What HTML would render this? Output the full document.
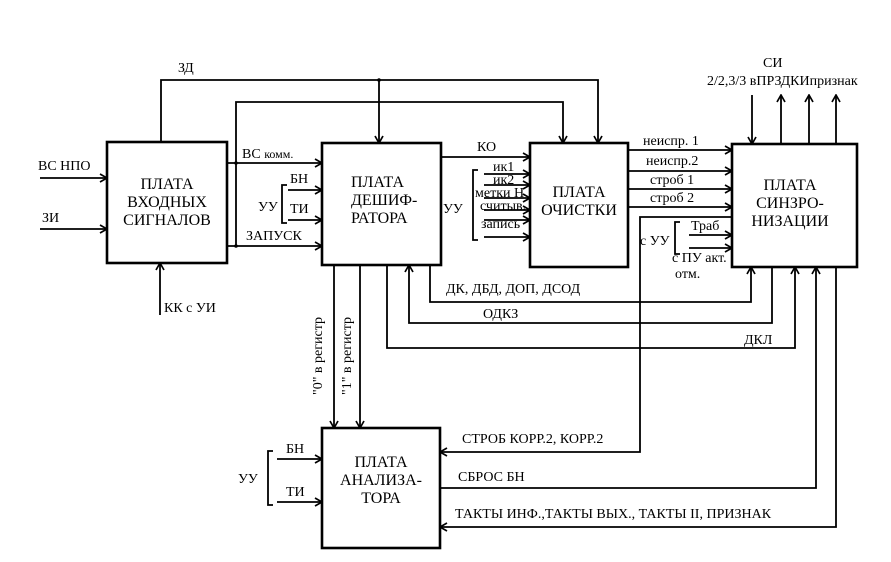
<!DOCTYPE html>
<html><head><meta charset="utf-8"><style>
html,body{margin:0;padding:0;background:#fff;}
svg{display:block;}
text{font-family:"Liberation Serif","DejaVu Serif",serif;font-size:14px;fill:#000;}
.b{font-size:16px;}
</style></head><body>
<svg width="891" height="562" viewBox="0 0 891 562" xmlns="http://www.w3.org/2000/svg">
<defs>
<marker id="a" markerWidth="10" markerHeight="10" refX="9" refY="5" orient="auto" markerUnits="userSpaceOnUse">
<polyline points="2,1 9,5 2,9" fill="none" stroke="#000" stroke-width="1.7"/>
</marker>
</defs>
<g fill="none" stroke="#000" stroke-width="2.6">
<rect x="107" y="142" width="120" height="121"/>
<rect x="322" y="143" width="119" height="122"/>
<rect x="530" y="143" width="98" height="124"/>
<rect x="732" y="144" width="125" height="123"/>
<rect x="322" y="428" width="118" height="120"/>
</g>
<g fill="none" stroke="#000" stroke-width="1.8">
<polyline points="161,142 161,80 598,80 598,143" marker-end="url(#a)"/>
<line x1="379" y1="80" x2="379" y2="143" marker-end="url(#a)"/>
<polyline points="236,246 236,102 563,102 563,143" marker-end="url(#a)"/>
<line x1="40" y1="178" x2="107" y2="178" marker-end="url(#a)"/>
<line x1="40" y1="229" x2="107" y2="229" marker-end="url(#a)"/>
<line x1="160" y1="315" x2="160" y2="263" marker-end="url(#a)"/>
<line x1="227" y1="163" x2="322" y2="163" marker-end="url(#a)"/>
<line x1="227" y1="246" x2="322" y2="246" marker-end="url(#a)"/>
<line x1="288" y1="190" x2="322" y2="190" marker-end="url(#a)"/>
<line x1="288" y1="220" x2="322" y2="220" marker-end="url(#a)"/>
<polyline points="287,185 282,185 282,223 287,223"/>
<line x1="441" y1="157" x2="530" y2="157" marker-end="url(#a)"/>
<polyline points="478,170 473,170 473,240 478,240"/>
<line x1="484" y1="174" x2="530" y2="174" marker-end="url(#a)"/>
<line x1="484" y1="185" x2="530" y2="185" marker-end="url(#a)"/>
<line x1="484" y1="198" x2="530" y2="198" marker-end="url(#a)"/>
<line x1="484" y1="210" x2="530" y2="210" marker-end="url(#a)"/>
<line x1="484" y1="220" x2="530" y2="220" marker-end="url(#a)"/>
<line x1="484" y1="237" x2="530" y2="237" marker-end="url(#a)"/>
<line x1="628" y1="150" x2="732" y2="150" marker-end="url(#a)"/>
<line x1="628" y1="171" x2="732" y2="171" marker-end="url(#a)"/>
<line x1="628" y1="189" x2="732" y2="189" marker-end="url(#a)"/>
<line x1="628" y1="207" x2="732" y2="207" marker-end="url(#a)"/>
<polyline points="732,217 640,217 640,452 440,452" marker-end="url(#a)"/>
<polyline points="680,222 675,222 675,254 680,254"/>
<line x1="689" y1="235" x2="732" y2="235" marker-end="url(#a)"/>
<line x1="689" y1="248" x2="732" y2="248" marker-end="url(#a)"/>
<line x1="752" y1="95" x2="752" y2="144" marker-end="url(#a)"/>
<line x1="781" y1="144" x2="781" y2="95" marker-end="url(#a)"/>
<line x1="809" y1="144" x2="809" y2="95" marker-end="url(#a)"/>
<line x1="836" y1="144" x2="836" y2="95" marker-end="url(#a)"/>
<line x1="334" y1="265" x2="334" y2="428" marker-end="url(#a)"/>
<line x1="360" y1="265" x2="360" y2="428" marker-end="url(#a)"/>
<polyline points="430,265 430,302 751,302 751,267" marker-end="url(#a)"/>
<polyline points="772,267 772,323 409,323 409,265" marker-end="url(#a)"/>
<polyline points="387,265 387,348 795,348 795,267" marker-end="url(#a)"/>
<polyline points="440,488 816,488 816,267" marker-end="url(#a)"/>
<polyline points="836,267 836,527 440,527" marker-end="url(#a)"/>
<polyline points="273,451 268,451 268,505 273,505"/>
<line x1="277" y1="459" x2="322" y2="459" marker-end="url(#a)"/>
<line x1="277" y1="502" x2="322" y2="502" marker-end="url(#a)"/>
</g>
<g fill="#000">
<circle cx="236" cy="163" r="1.8"/><circle cx="236" cy="246" r="1.8"/><circle cx="379" cy="80" r="1.8"/>
</g>
<text x="178" y="72">ЗД</text>
<text x="38" y="170">ВС НПО</text>
<text x="42" y="222">ЗИ</text>
<text x="164" y="312">КК с УИ</text>
<text class="b" x="167" y="189" text-anchor="middle">ПЛАТА</text>
<text class="b" x="167" y="207" text-anchor="middle">ВХОДНЫХ</text>
<text class="b" x="167" y="225" text-anchor="middle">СИГНАЛОВ</text>
<text x="242" y="158">ВС <tspan font-size="12">комм.</tspan></text>
<text x="290" y="183">БН</text>
<text x="290" y="213">ТИ</text>
<text x="258" y="211">УУ</text>
<text x="246" y="240">ЗАПУСК</text>
<text class="b" x="351" y="187">ПЛАТА</text>
<text class="b" x="351" y="205">ДЕШИФ-</text>
<text class="b" x="351" y="223">РАТОРА</text>
<text x="443" y="213">УУ</text>
<text x="477" y="151">КО</text>
<text x="493" y="171" font-size="13">ик1</text>
<text x="493" y="184" font-size="13">ик2</text>
<text x="475" y="197" font-size="13">метки Н</text>
<text x="480" y="210" font-size="13">считыв.</text>
<text x="481" y="228" font-size="13">запись</text>
<text class="b" x="579" y="197" text-anchor="middle">ПЛАТА</text>
<text class="b" x="579" y="215" text-anchor="middle">ОЧИСТКИ</text>
<text x="643" y="145" font-size="13">неиспр. 1</text>
<text x="646" y="165" font-size="13">неиспр.2</text>
<text x="650" y="184" font-size="13">строб 1</text>
<text x="650" y="202" font-size="13">строб 2</text>
<text x="640" y="245" font-size="13">с УУ</text>
<text x="691" y="230" font-size="13">Траб</text>
<text x="672" y="262" font-size="13">с ПУ акт.</text>
<text x="675" y="278" font-size="13">отм.</text>
<text x="763" y="67">СИ</text>
<text x="707" y="85" font-size="13">2/2,3/3 вПРЗДКИпризнак</text>
<text class="b" x="790" y="190" text-anchor="middle">ПЛАТА</text>
<text class="b" x="790" y="208" text-anchor="middle">СИНЗРО-</text>
<text class="b" x="790" y="226" text-anchor="middle">НИЗАЦИИ</text>
<text x="446" y="293">ДК, ДБД, ДОП, ДСОД</text>
<text x="483" y="318">ОДКЗ</text>
<text x="744" y="344">ДКЛ</text>
<text transform="translate(322,395) rotate(-90)" font-size="13">"0" в регистр</text>
<text transform="translate(351,395) rotate(-90)" font-size="13">"1" в регистр</text>
<text x="286" y="453">БН</text>
<text x="286" y="496">ТИ</text>
<text x="238" y="483">УУ</text>
<text class="b" x="381" y="467" text-anchor="middle">ПЛАТА</text>
<text class="b" x="381" y="485" text-anchor="middle">АНАЛИЗА-</text>
<text class="b" x="381" y="503" text-anchor="middle">ТОРА</text>
<text x="462" y="443" font-size="13">СТРОБ КОРР.2, КОРР.2</text>
<text x="458" y="481" font-size="13">СБРОС БН</text>
<text x="455" y="518" font-size="13">ТАКТЫ ИНФ.,ТАКТЫ ВЫХ., ТАКТЫ II, ПРИЗНАК</text>
</svg>
</body></html>
